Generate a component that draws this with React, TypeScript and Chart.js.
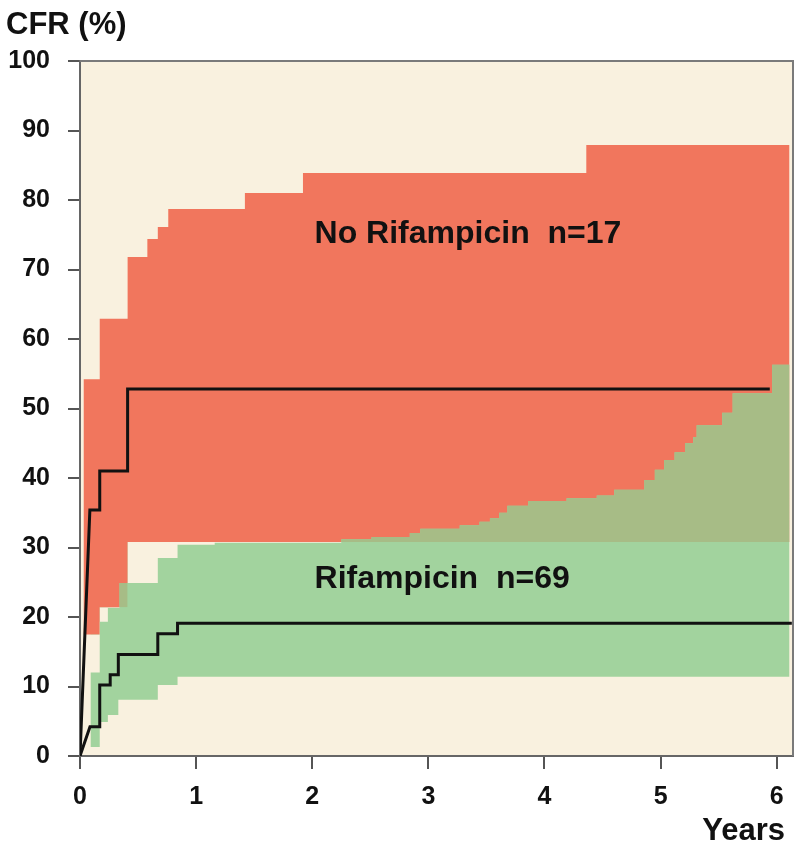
import React, { useEffect, useRef } from 'react';
import { Chart, registerables } from 'chart.js';

Chart.register(...registerables);

// ---- Data ----
const xTickValues = [0, 1, 2, 3, 4, 5, 6];
const yTickValues = [0, 10, 20, 30, 40, 50, 60, 70, 80, 90, 100];

// Kaplan-Meier style cumulative failure rate (CFR %) step curves
const noRifTimes = [0, 0.085, 0.17, 0.41, 5.94];
const noRifCFR = [0, 35.4, 41.0, 52.8, 52.8];
const rifTimes = [0, 0.086, 0.17, 0.26, 0.33, 0.67, 0.84, 6.13];
const rifCFR = [0, 4.2, 10.2, 11.7, 14.6, 17.6, 19.1, 19.1];

// Confidence bands – No Rifampicin
const noRifUpperTimes = [0.03, 0.17, 0.41, 0.58, 0.67, 0.76, 1.42, 1.92, 4.36, 6.11];
const noRifUpper = [54.2, 62.9, 71.8, 74.4, 76.1, 78.7, 81.0, 83.9, 87.9, 87.9];
const noRifLowerTimes = [0.03, 0.17, 0.41, 6.11];
const noRifLower = [17.5, 21.4, 30.8, 30.8];

// Confidence bands – Rifampicin
const rifUpperTimes = [0.09, 0.17, 0.24, 0.34, 0.67, 0.84, 1.16, 2.25, 2.51, 2.84, 2.93, 3.27, 3.44, 3.53, 3.61, 3.68, 3.86, 4.19, 4.45, 4.6, 4.86, 4.95, 5.03, 5.12, 5.21, 5.28, 5.31, 5.53, 5.62, 5.96, 6.11];
const rifUpper = [12.0, 19.3, 21.3, 24.9, 28.5, 30.4, 30.7, 31.2, 31.5, 32.1, 32.7, 33.2, 33.7, 34.2, 35.0, 36.0, 36.7, 37.1, 37.5, 38.3, 39.7, 41.2, 42.6, 43.7, 45.0, 45.9, 47.6, 49.4, 52.2, 56.3, 56.3];
const rifLowerTimes = [0.09, 0.17, 0.24, 0.33, 0.67, 0.84, 6.11];
const rifLower = [1.3, 4.9, 5.9, 8.1, 10.2, 11.4, 11.4];

const labelNoRif = 'No Rifampicin  n=17';
const labelRif = 'Rifampicin  n=69';
const yTitle = 'CFR (%)';
const xTitle = 'Years';

// ---- Styles ----
const BEIGE = '#f9f1df';
const RED = '#f1765d';
const GREEN = '#a2d39e';
const OLIVE = '#a7bc86';
const LINE = '#111111';
const AXIS = '#666666';
const FONT = '"Liberation Sans", Arial, Helvetica, sans-serif';
const NONE = 'rgba(0,0,0,0)';

function steps(xs: number[], ys: number[], diagonalStart = false) {
  const pts: { x: number; y: number }[] = [{ x: xs[0], y: ys[0] }];
  for (let i = 1; i < xs.length; i++) {
    if (!(diagonalStart && i === 1)) pts.push({ x: xs[i], y: ys[i - 1] });
    pts.push({ x: xs[i], y: ys[i] });
  }
  return pts;
}

const backgroundPlugin = {
  id: 'plotBackground',
  beforeDraw(chart: any) {
    const { ctx, chartArea: a } = chart;
    ctx.save();
    ctx.fillStyle = BEIGE;
    ctx.fillRect(a.left, a.top, a.right - a.left, a.bottom - a.top);
    ctx.restore();
  },
};

const framePlugin = {
  id: 'frameAndText',
  afterDraw(chart: any) {
    const { ctx, chartArea: a, scales } = chart;
    ctx.save();
    ctx.strokeStyle = '#7a7a7a';
    ctx.lineWidth = 2;
    ctx.beginPath();
    ctx.moveTo(a.left, a.top);
    ctx.lineTo(a.right, a.top);
    ctx.lineTo(a.right, a.bottom);
    ctx.stroke();

    ctx.fillStyle = LINE;
    ctx.textBaseline = 'alphabetic';
    ctx.font = `bold 31px ${FONT}`;
    ctx.textAlign = 'left';
    ctx.fillText(yTitle, 6, 34);

    ctx.font = `bold 31px ${FONT}`;
    ctx.textAlign = 'right';
    ctx.fillText(xTitle, a.right - 8, 840);

    ctx.font = `bold 32px ${FONT}`;
    ctx.textAlign = 'left';
    ctx.fillText(labelNoRif, scales.x.getPixelForValue(2.02), scales.y.getPixelForValue(73.8));
    ctx.fillText(labelRif, scales.x.getPixelForValue(2.02), scales.y.getPixelForValue(24.2));
    ctx.restore();
  },
};

export default function App() {
  const canvasRef = useRef<HTMLCanvasElement>(null);

  useEffect(() => {
    if (!canvasRef.current) return;
    const chart = new Chart(canvasRef.current, {
      type: 'line',
      data: {
        datasets: [
          {
            label: 'No Rifampicin',
            data: steps(noRifTimes, noRifCFR, true),
            borderColor: LINE,
            borderWidth: 3,
            pointRadius: 0,
            fill: false,
          },
          {
            label: 'Rifampicin',
            data: steps(rifTimes, rifCFR, true),
            borderColor: LINE,
            borderWidth: 3,
            pointRadius: 0,
            fill: false,
          },
          {
            label: 'Overlap',
            data: steps(rifUpperTimes, rifUpper),
            borderColor: NONE,
            borderWidth: 1,
            pointRadius: 0,
            fill: { target: 6, above: OLIVE, below: NONE },
          },
          {
            label: 'Rifampicin upper',
            data: steps(rifUpperTimes, rifUpper),
            borderColor: NONE,
            borderWidth: 1,
            pointRadius: 0,
            backgroundColor: GREEN,
            fill: { target: 4, above: GREEN, below: GREEN },
          },
          {
            label: 'Rifampicin lower',
            data: steps(rifLowerTimes, rifLower),
            borderColor: NONE,
            borderWidth: 1,
            pointRadius: 0,
            fill: false,
          },
          {
            label: 'No Rifampicin upper',
            data: steps(noRifUpperTimes, noRifUpper),
            borderColor: NONE,
            borderWidth: 1,
            pointRadius: 0,
            backgroundColor: RED,
            fill: { target: 6, above: RED, below: RED },
          },
          {
            label: 'No Rifampicin lower',
            data: steps(noRifLowerTimes, noRifLower),
            borderColor: NONE,
            borderWidth: 1,
            pointRadius: 0,
            fill: false,
          },
        ],
      },
      options: {
        responsive: false,
        animation: false,
        events: [],
        layout: { padding: { left: 0, top: 61, right: 7, bottom: 0 } },
        plugins: {
          legend: { display: false },
          tooltip: { enabled: false },
          title: { display: false },
        },
        scales: {
          x: {
            type: 'linear',
            min: 0,
            max: 6.14,
            afterBuildTicks: (s: any) => {
              s.ticks = xTickValues.map((v) => ({ value: v }));
            },
            afterFit: (s: any) => {
              s.height = 87;
            },
            ticks: {
              color: LINE,
              font: { family: FONT, size: 25, weight: 'bold' },
              padding: 13,
              maxRotation: 0,
            },
            grid: {
              display: true,
              drawOnChartArea: false,
              drawTicks: true,
              tickLength: 13,
              color: '#555',
              lineWidth: 2,
            },
            border: { display: true, color: AXIS, width: 2 },
          },
          y: {
            type: 'linear',
            min: 0,
            max: 100,
            afterBuildTicks: (s: any) => {
              s.ticks = yTickValues.map((v) => ({ value: v }));
            },
            afterFit: (s: any) => {
              s.width = 80;
            },
            ticks: {
              color: LINE,
              font: { family: FONT, size: 25, weight: 'bold' },
              padding: 18,
            },
            grid: {
              display: true,
              drawOnChartArea: false,
              drawTicks: true,
              tickLength: 12,
              color: '#555',
              lineWidth: 2,
            },
            border: { display: true, color: AXIS, width: 2 },
          },
        },
      },
      plugins: [backgroundPlugin, framePlugin],
    } as any);
    return () => chart.destroy();
  }, []);

  return (
    <div style={{ position: 'absolute', left: 0, top: 0, width: 800, height: 843, background: '#fff' }}>
      <canvas ref={canvasRef} width={800} height={843} style={{ display: 'block' }} />
    </div>
  );
}
